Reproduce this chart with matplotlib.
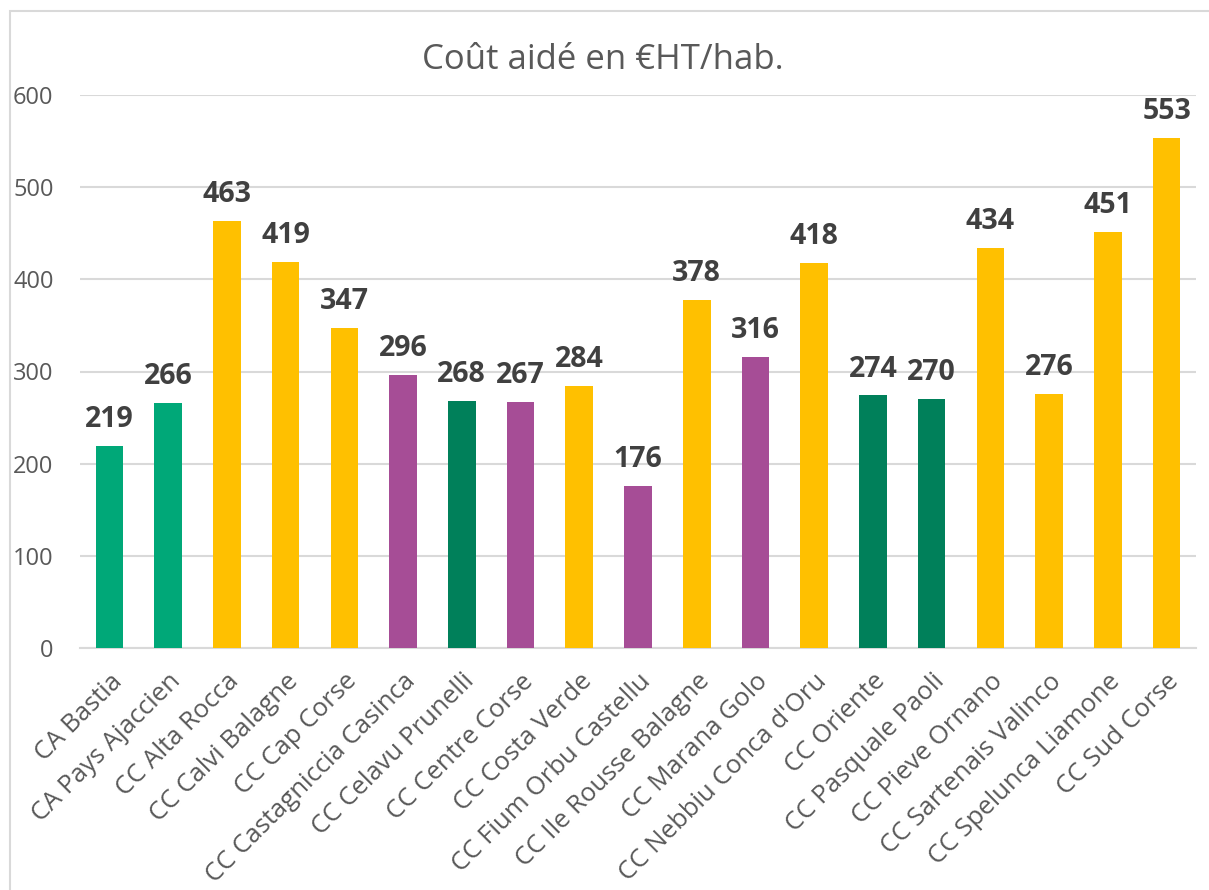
import matplotlib
matplotlib.use("Agg")
import matplotlib.pyplot as plt
from matplotlib.patches import Rectangle

categories = ["CA Bastia", "CA Pays Ajaccien", "CC Alta Rocca", "CC Calvi Balagne",
              "CC Cap Corse", "CC Castagniccia Casinca", "CC Celavu Prunelli",
              "CC Centre Corse", "CC Costa Verde", "CC Fium Orbu Castellu",
              "CC Ile Rousse Balagne", "CC Marana Golo", "CC Nebbiu Conca d'Oru",
              "CC Oriente", "CC Pasquale Paoli", "CC Pieve Ornano",
              "CC Sartenais Valinco", "CC Spelunca Liamone", "CC Sud Corse"]
values = [219, 266, 463, 419, 347, 296, 268, 267, 284, 176, 378, 316, 418,
          274, 270, 434, 276, 451, 553]
groups = ["teal", "teal", "yellow", "yellow", "yellow", "purple", "green",
          "purple", "yellow", "purple", "yellow", "purple", "yellow",
          "green", "green", "yellow", "yellow", "yellow", "yellow"]
title = "Coût aidé en €HT/hab."
yticks = [0, 100, 200, 300, 400, 500, 600]

palette = {"teal": "#00A878", "yellow": "#FFC000", "purple": "#A64D96", "green": "#00805A"}

plt.rcParams['font.family'] = ['Open Sans', 'DejaVu Sans']

fig = plt.figure(figsize=(12.09, 8.90), dpi=100)
W, H = 1209, 890
ax = fig.add_axes([80 / W, 1 - 648 / H, (1196 - 80) / W, (648 - 95) / H])

x = list(range(len(categories)))
ax.bar(x, values, width=0.47, color=[palette[g] for g in groups], zorder=3)

for xi, v in zip(x, values):
    ax.annotate(str(v), (xi, v), xytext=(0, 19), textcoords='offset points',
                ha='center', va='center', fontsize=20.5, fontweight='bold',
                color='#404040', annotation_clip=False)

ax.set_xlim(-0.5, len(categories) - 0.5)
ax.set_ylim(0, 600)
ax.set_yticks(yticks)
ax.set_yticklabels([str(t) for t in yticks])
ax.yaxis.grid(True, color='#D9D9D9', linewidth=1.5, zorder=0)
ax.set_axisbelow(True)
for s in ['top', 'right', 'left']:
    ax.spines[s].set_visible(False)
ax.spines['bottom'].set_color('#D9D9D9')
ax.spines['bottom'].set_linewidth(1.5)
ax.tick_params(axis='y', length=0, labelsize=17, labelcolor='#595959', pad=19)
ax.set_xticks(x)
ax.set_xticklabels(categories, rotation=45, ha='right', rotation_mode='anchor')
ax.tick_params(axis='x', length=0, labelsize=18.5, labelcolor='#595959', pad=15)

fig.text(603 / W, 1 - 60 / H, title, ha='center', va='center', fontsize=25, color='#595959')

fig.patches.append(Rectangle((10 / W, -0.01), (W - 10) / W + 0.01, 1 - 11 / H + 0.01,
                             transform=fig.transFigure, fill=False,
                             edgecolor='#D9D9D9', linewidth=1.5))

fig.savefig("out.png", dpi=100)
